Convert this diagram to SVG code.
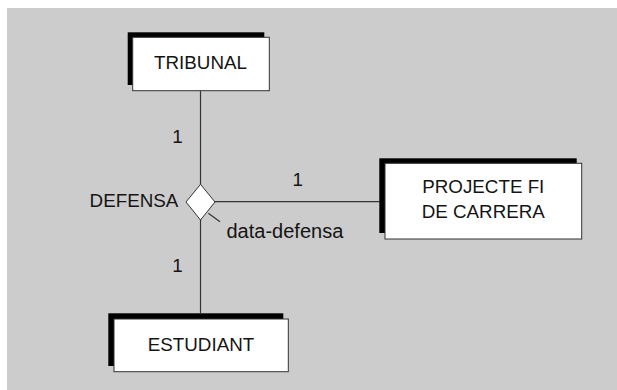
<svg xmlns="http://www.w3.org/2000/svg" width="617" height="390" viewBox="0 0 617 390">
<style>
text{font-family:"Liberation Sans",Arial,sans-serif;font-size:18.8px;fill:#141414}
.c{text-anchor:middle}
.sh{fill:#000}
.bx{fill:#fff;stroke:#333;stroke-width:1}
.ln{stroke:#333;stroke-width:1.2;fill:none}
</style>
<rect x="7" y="8" width="610" height="382" fill="#cccccc"/>
<g id="connectors">
<line class="ln" x1="200.5" y1="90.5" x2="200.5" y2="313"/>
<line class="ln" x1="200.5" y1="201.7" x2="379.5" y2="201.7"/>
<line class="ln" x1="208.3" y1="213.3" x2="220" y2="221.7"/>
<text class="c" x="177.5" y="143.3">1</text>
<text class="c" x="177.5" y="272.3">1</text>
<text class="c" x="297.7" y="186">1</text>
<text x="226.5" y="238" style="font-size:20px">data-defensa</text>
</g>
<g id="tribunal">
<rect class="sh" x="127.7" y="32.3" width="136.6" height="52.7"/>
<rect class="bx" x="132.7" y="37.3" width="136.6" height="53.4"/>
<text class="c" x="200.5" y="69.3">TRIBUNAL</text>
</g>
<g id="defensa">
<polygon points="200.5,184.3 215,202 200.5,220 186,202" fill="#fff" stroke="#333" stroke-width="1"/>
<text x="178.3" y="207.3" text-anchor="end">DEFENSA</text>
</g>
<g id="projecte">
<rect class="sh" x="379.3" y="158.3" width="197.4" height="74.7"/>
<rect class="bx" x="385" y="163.3" width="196.7" height="75.7"/>
<text class="c" x="483.3" y="193.3">PROJECTE FI</text>
<text class="c" x="483.3" y="218.3">DE CARRERA</text>
</g>
<g id="estudiant">
<rect class="sh" x="108.3" y="313.3" width="175" height="52.7"/>
<rect class="bx" x="114" y="319" width="174.3" height="52.7"/>
<text class="c" x="201" y="350.7">ESTUDIANT</text>
</g>
</svg>
